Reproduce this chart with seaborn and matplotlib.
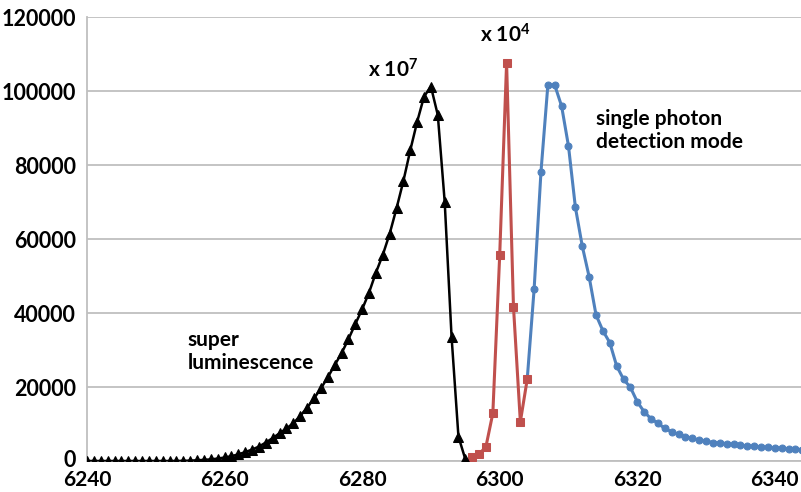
import numpy as np
import matplotlib
matplotlib.use('Agg')
import matplotlib.pyplot as plt
import matplotlib.transforms as mtransforms
import seaborn as sns

# super luminescence (black, triangles), 1 nm steps from 6240
sl_x = list(range(6240, 6296))
sl_y = [0, 0, 0, 0, 0, 0, 0, 0, 0, 0,
        0, 0, 0, 0, 50, 100, 200, 300, 450, 650,
        950, 1300, 1800, 2400, 3100, 3900, 5000, 6200, 7500, 8800,
        10200, 12200, 14400, 16900, 19600, 22600, 25900, 29100, 32900, 37000,
        41000, 45500, 50900, 55700, 61400, 68300, 75700, 84000, 91700, 98500,
        101200, 93500, 70100, 33600, 6600, 500]

# x 10^4 series (red, squares)
mid_x = [6296, 6297, 6298, 6299, 6300, 6301, 6302, 6303, 6304]
mid_y = [1200, 1800, 3900, 12900, 55700, 107600, 41700, 10600, 22100]

# single photon detection mode (blue, circles)
sp_x = list(range(6304, 6345))
sp_y = [22100, 46400, 78200, 101600, 101600, 95900, 85100, 68600, 58100, 49800,
        39500, 35200, 32000, 25700, 22100, 19900, 16000, 13300, 11400, 10200,
        8800, 7900, 7200, 6600, 6100, 5700, 5400, 5000, 4900, 4700,
        4500, 4200, 4100, 4000, 3800, 3700, 3600, 3500, 3300, 3200,
        3100]

y_ticks = [0, 20000, 40000, 60000, 80000, 100000, 120000]
x_ticks = [6240, 6260, 6280, 6300, 6320, 6340]

sns.set_style('white')
plt.rcParams['font.family'] = ['Lato', 'DejaVu Sans']
plt.rcParams['font.weight'] = 'bold'
plt.rcParams['mathtext.fontset'] = 'custom'
plt.rcParams['mathtext.rm'] = 'Lato:bold'
plt.rcParams['mathtext.it'] = 'Lato:bold'
plt.rcParams['mathtext.bf'] = 'Lato:bold'

fig = plt.figure(figsize=(8.01, 4.92), dpi=100)
ax = fig.add_axes([0.1086, 0.063, 0.8914, 0.9024])

grid_col = '#BFBFBF'
blue = '#4F81BD'
red = '#C0504D'

sns.lineplot(x=sp_x, y=sp_y, ax=ax, color=blue, linewidth=2.2,
             marker='o', markersize=5, markeredgecolor=blue, zorder=3)
sns.lineplot(x=mid_x, y=mid_y, ax=ax, color=red, linewidth=2.2,
             marker='s', markersize=6.2, markeredgecolor=red, zorder=4)
sns.lineplot(x=sl_x, y=sl_y, ax=ax, color='black', linewidth=1.8,
             marker='^', markersize=7, markeredgecolor='black', zorder=5)

ax.set_xlim(6240, 6343.8)
ax.set_ylim(0, 120000)
ax.set_xticks(x_ticks)
ax.set_yticks(y_ticks)
ax.set_xticklabels([str(t) for t in x_ticks])
ax.set_yticklabels([str(t) for t in y_ticks])
ax.set_xlabel('')
ax.set_ylabel('')

ax.yaxis.grid(True, color=grid_col, linewidth=1.3)
ax.set_axisbelow(True)
for s in ['top', 'right']:
    ax.spines[s].set_visible(False)
for s in ['left', 'bottom']:
    ax.spines[s].set_color(grid_col)
    ax.spines[s].set_linewidth(1.3)

ax.tick_params(axis='y', direction='out', length=5, color=grid_col,
               width=1.0, labelsize=15.5, pad=3)
ax.tick_params(axis='x', direction='out', length=4, color=grid_col,
               width=1.0, labelsize=15, pad=2.5)
for lab in ax.get_xticklabels() + ax.get_yticklabels():
    lab.set_fontweight('bold')
    lab.set_color('black')

# lift the "0" label a touch so it clears the 6240 label
zero_lab = ax.get_yticklabels()[0]
zero_lab.set_transform(zero_lab.get_transform() +
                       mtransforms.ScaledTranslation(0, 3 / 100, fig.dpi_scale_trans))

txt = dict(fontsize=15, fontweight='bold', color='black')
ax.text(6280.8, 105700, r'x 10$^{7}$', ha='left', va='center', **txt)
ax.text(6297.1, 115300, r'x 10$^{4}$', ha='left', va='center', **txt)
ax.text(6314.0, 89300, 'single photon\ndetection mode', ha='left', va='center',
        linespacing=1.2, **txt)
ax.text(6254.6, 29600, 'super\nluminescence', ha='left', va='center',
        linespacing=1.2, **txt)

fig.savefig('out.png', dpi=100)
